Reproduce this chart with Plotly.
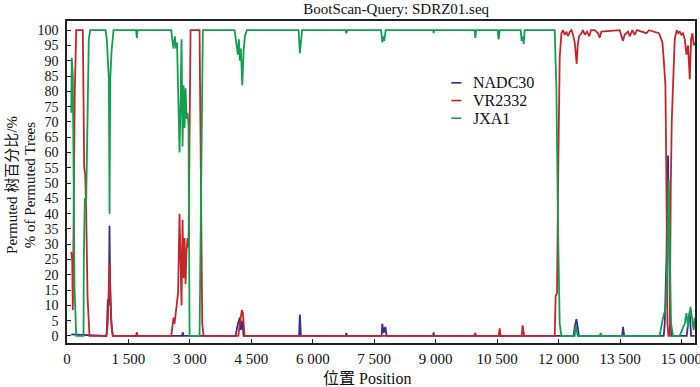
import plotly.graph_objects as go

# ---------------- data ----------------
jxa1_pos = [103, 117, 142, 159, 183, 225, 403, 410, 435, 469, 501, 532, 567,
            940, 972, 996, 1021, 1038, 1055, 1087, 1118, 1136,
            1685, 1705, 1722,
            2545, 2569, 2601, 2633, 2662, 2686, 2711, 2747, 2772, 2796, 2821, 2845, 2869, 2894, 2918, 2943, 2967, 2992,
            3236, 3277, 3316,
            4090, 4132, 4171, 4195, 4220, 4244, 4278, 4310, 4342, 4391,
            5653, 5685, 5714, 5739,
            6801, 6818, 6838,
            7668, 7697, 7722, 7746, 7778,
            8938, 8950, 8962,
            9951, 9968, 9988,
            10513, 10537, 10562,
            11074, 11099, 11123, 11148, 11172,
            11905, 11946, 11985, 12027, 12069,
            12394, 12418, 12442, 12467,
            13004, 13028, 13053,
            14469, 14493, 14549, 14615, 14657, 14689, 14713, 14745, 14794,
            14957, 14999, 15080, 15121, 15160, 15219, 15268, 15299, 15324]
jxa1_val = [73, 91, 85, 60, 16, 0, 0, 25, 45, 44, 74, 97, 100,
            100, 97, 91, 84, 40, 84, 93, 99, 100,
            100, 97.5, 100,
            100, 97, 94, 98, 94, 96, 82, 60, 76, 97, 62, 82, 68, 81, 71, 73, 69, 0,
            0, 48, 100,
            100, 95, 92, 97, 90, 94, 82, 93, 98, 100,
            100, 92.5, 96, 100,
            100, 99, 100,
            100, 96, 98, 96.5, 100,
            100, 99, 100,
            100, 97.5, 100,
            100, 97, 100,
            100, 96.5, 98, 95.5, 100,
            100, 81.5, 37, 4, 0,
            0, 3.5, 1, 0,
            0, 1, 0,
            0, 2, 6, 9, 25, 51, 25, 4, 0,
            0, 1.5, 4, 7.5, 3, 9.5, 4, 2, 6]

vr2332_pos = [103, 127, 142, 166, 190, 225, 386, 420, 444, 469, 501, 549,
              965, 996, 1021, 1038, 1055, 1087, 1118,
              1685, 1705, 1722,
              2545, 2569, 2601, 2625, 2662, 2711, 2747, 2772, 2796, 2821, 2845, 2869, 2894, 2918, 2943, 2967, 2992, 3016,
              3236, 3277, 3301, 3333,
              4183, 4220, 4269, 4293, 4335,
              9939, 9968, 9988,
              10537, 10562, 10586,
              11099, 11123, 11160,
              11905, 11929, 11961, 11995, 12027, 12069, 12108, 12150, 12192, 12231, 12273, 12314, 12353,
              12394, 12418, 12442, 12467, 12499, 12558, 12597, 12638, 12694, 12748, 12792, 12882, 12963,
              13004, 13045, 13492, 13533, 13572, 13614, 13695, 13736, 13801, 13858, 13914, 14144, 14207,
              14451, 14493, 14535, 14574, 14608, 14633, 14657, 14681, 14713, 14738, 14762, 14794, 14835,
              14884, 14923, 14957, 14999, 15038, 15080, 15121, 15160, 15202, 15234, 15268, 15299, 15324]
vr2332_val = [27.5, 25, 8.5, 48, 80, 100, 100, 55, 53, 40, 13, 0,
              0, 4, 17.5, 24, 16, 3, 0,
              0, 1.2, 0,
              0, 2, 6, 4, 8, 14, 40, 27, 10, 38, 19, 32, 17, 28, 32, 29, 80, 100,
              100, 33, 4, 0,
              0, 4, 8.5, 7.5, 0,
              0, 1, 0,
              0, 2.5, 0,
              0, 3.5, 0,
              0, 13, 14, 58, 91, 99, 100, 98.5, 99.5, 98, 99.5, 100, 98.5,
              96, 93, 89, 95, 98, 99, 100, 98.5, 99.5, 98, 100, 100, 99,
              97.5, 99.5, 100, 98, 96.5, 98.5, 99.5, 98, 100, 98.5, 100, 99, 100,
              99, 97.5, 96, 89, 82, 49, 4, 0, 0, 48, 70, 82, 97,
              100, 99, 99.5, 98.5, 99, 97, 92, 95, 84, 97, 99, 95, 96]

nadc30_pos = [103, 956, 972, 996, 1021, 1038, 1055, 1079, 1118,
              2809, 2825, 2845,
              4115, 4171, 4220, 4244, 4278, 4310,
              5665, 5685, 5710,
              6801, 6818, 6838,
              7680, 7697, 7729, 7771, 7803,
              8938, 8950, 8962,
              12369, 12394, 12435, 12467, 12499,
              13553, 13572, 13602,
              14567, 14591, 14633, 14672, 14696, 14721, 14755,
              15128, 15160, 15202, 15234, 15324]
nadc30_val = [0.5, 0, 1.5, 12, 10, 36, 14, 5, 0,
              0, 1.2, 0,
              0, 4, 6, 2, 5, 0,
              0, 7, 0,
              0, 1, 0,
              0, 4, 1, 3, 0,
              0, 1.2, 0,
              0, 3, 5.5, 2, 0,
              0, 3, 0,
              0, 4, 25, 59, 36, 6, 0,
              0, 4, 8, 0, 0]

series_names = ["NADC30", "VR2332", "JXA1"]
series_colors = ["#3b2d8f", "#c4272b", "#12a04f"]
x_tick_vals = [0, 1500, 3000, 4500, 6000, 7500, 9000, 10500, 12000, 13500, 15000]
x_tick_text = ["0", "1 500", "3 000", "4 500", "6 000", "7 500", "9 000", "10 500", "12 000", "13 500", "15 000"]
y_tick_vals = list(range(0, 101, 5))

# ---------------- figure ----------------
SERIF = "Liberation Serif, Times New Roman, Noto Sans CJK SC, serif"
fig = go.Figure()
for name, color, xs, ys in zip(series_names, series_colors,
                               [nadc30_pos, vr2332_pos, jxa1_pos],
                               [nadc30_val, vr2332_val, jxa1_val]):
    fig.add_trace(go.Scatter(x=xs, y=ys, mode="lines", name=name,
                             line=dict(color=color, width=1.8), showlegend=False))

# custom compact legend
legend_y = [0.808, 0.753, 0.698]
for name, color, ly in zip(series_names, series_colors, legend_y):
    fig.add_shape(type="line", xref="paper", yref="paper", x0=0.612, x1=0.628, y0=ly, y1=ly,
                  line=dict(color=color, width=1.6))
    fig.add_annotation(xref="paper", yref="paper", x=0.644, y=ly, text=name, showarrow=False,
                       xanchor="left", yanchor="middle", font=dict(family=SERIF, size=16, color="#111"))

# y-axis titles (two lines)
fig.add_annotation(xref="paper", yref="paper", x=-0.088, y=0.49, text="Permuted 树百分比/%",
                   textangle=-90, showarrow=False, xanchor="center", yanchor="middle",
                   font=dict(family=SERIF, size=15, color="#111"))
fig.add_annotation(xref="paper", yref="paper", x=-0.059, y=0.49, text="% of Permuted Trees",
                   textangle=-90, showarrow=False, xanchor="center", yanchor="middle",
                   font=dict(family=SERIF, size=15, color="#111"))

# x-axis title
fig.add_annotation(xref="paper", yref="paper", x=0.478, y=-0.109, text="位置 Position",
                   showarrow=False, xanchor="center", yanchor="middle",
                   font=dict(family=SERIF, size=16, color="#111"))

fig.update_layout(
    width=700, height=387,
    margin=dict(l=67, r=5, t=21, b=44, autoexpand=False),
    paper_bgcolor="white", plot_bgcolor="white",
    title=dict(text="BootScan-Query: SDRZ01.seq", x=0.566, xanchor="center", y=0.99, yanchor="top",
               font=dict(family=SERIF, size=15, color="#111")),
    font=dict(family=SERIF, color="#111"),
)
fig.update_xaxes(range=[0, 15330], tickvals=x_tick_vals, ticktext=x_tick_text, automargin=False,
                 ticks="inside", ticklen=4, tickcolor="#222", showgrid=False, zeroline=False,
                 showline=True, mirror=True, linecolor="#222", linewidth=1.5,
                 tickfont=dict(family=SERIF, size=15, color="#111"), ticklabelstandoff=1,
                 ticklabeloverflow="allow")
fig.update_yaxes(range=[-2.3, 103], tickvals=y_tick_vals, automargin=False,
                 ticks="inside", ticklen=4, tickcolor="#222", showgrid=False, zeroline=False,
                 showline=True, mirror=True, linecolor="#222", linewidth=1.5,
                 tickfont=dict(family=SERIF, size=14, color="#111"), ticklabelstandoff=4,
                 ticklabeloverflow="allow")

fig.write_html("out.html", config={"displayModeBar": False},
               post_script="document.body.style.margin='0';document.body.style.overflow='hidden';")
